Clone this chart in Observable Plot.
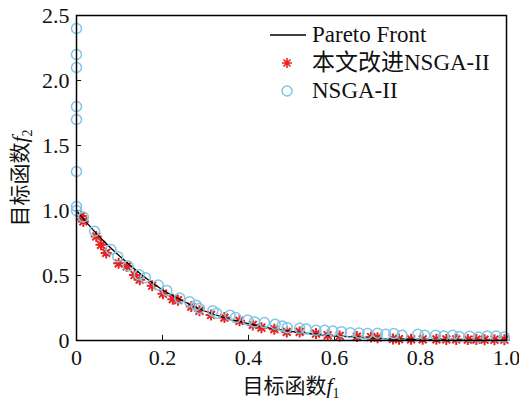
<!DOCTYPE html>
<html><head><meta charset="utf-8">
<script src="https://cdn.jsdelivr.net/npm/d3@7"></script>
<script src="https://cdn.jsdelivr.net/npm/@observablehq/plot@0.6"></script>
<style>
body{margin:0;background:#fff;}
#wrap{width:519px;height:401px;}
</style></head><body><div id="wrap"></div>
<script>
// Pareto front
const frontF1 = [0,0.05,0.1,0.15,0.2,0.25,0.3,0.35,0.4,0.45,0.5,0.55,0.6,0.65,0.7,0.75,0.8,0.85,0.9,0.95,1.0];
const frontF2 = [1.0,0.81,0.65,0.51,0.39,0.30,0.225,0.17,0.13,0.095,0.07,0.05,0.035,0.025,0.017,0.011,0.007,0.004,0.002,0.001,0.0];

// improved NSGA-II (red asterisks)
const impF1 = [0.011,0.016,0.046,0.057,0.069,0.098,0.117,0.135,0.147,0.176,0.201,0.224,0.236,0.267,0.286,0.313,0.344,0.379,0.41,0.43,0.46,0.489,0.519,0.557,0.584,0.612,0.652,0.685,0.70,0.736,0.75,0.778,0.805,0.837,0.86,0.883,0.91,0.93,0.949,0.972,0.995];
const impF2 = [0.957,0.916,0.80,0.736,0.674,0.594,0.57,0.504,0.468,0.421,0.36,0.318,0.31,0.261,0.228,0.197,0.176,0.151,0.12,0.099,0.087,0.066,0.066,0.053,0.04,0.035,0.03,0.027,0.022,0.012,0.01,0.009,0.009,0.009,0.008,0.008,0.007,0.007,0.006,0.006,0.006];

// NSGA-II (blue circles)
const nsF1 = [0,0,0,0,0,0,0,0,0.016,0.042,0.08,0.096,0.12,0.146,0.16,0.19,0.21,0.24,0.263,0.278,0.286,0.317,0.326,0.357,0.37,0.398,0.414,0.437,0.462,0.478,0.49,0.519,0.534,0.557,0.577,0.596,0.616,0.637,0.657,0.677,0.70,0.719,0.738,0.757,0.794,0.81,0.835,0.854,0.875,0.89,0.914,0.935,0.955,0.976,0.995];
const nsF2 = [2.4,2.2,2.1,1.8,1.7,1.3,1.03,1.0,0.95,0.84,0.70,0.645,0.573,0.506,0.483,0.426,0.385,0.326,0.298,0.272,0.246,0.228,0.21,0.195,0.176,0.158,0.143,0.138,0.125,0.112,0.099,0.094,0.089,0.079,0.079,0.073,0.068,0.06,0.058,0.053,0.056,0.048,0.053,0.04,0.048,0.04,0.04,0.035,0.04,0.03,0.032,0.027,0.035,0.035,0.027];

const xTicks = [0,0.2,0.4,0.6,0.8,1.0];
const xTickLabels = ["0","0.2","0.4","0.6","0.8","1.0"];
const yTicks = [0,0.5,1.0,1.5,2.0,2.5];
const yTickLabels = ["0","0.5","1.0","1.5","2.0","2.5"];
const legendLabels = ["Pareto Front","本文改进NSGA-II","NSGA-II"];
const xLabelParts = ["目标函数","f","1"];
const yLabelParts = ["目标函数","f","2"];

const front = frontF1.map((x,i)=>({x, y: frontF2[i]}));
const imp = impF1.map((x,i)=>({x, y: impF2[i]}));
const ns = nsF1.map((x,i)=>({x, y: nsF2[i]}));

const RED = "#e8231f", BLUE = "#7fc6e2";
const star8 = {draw(ctx, size){const r=Math.sqrt(size/Math.PI);const q=r*Math.SQRT1_2;
  ctx.moveTo(-r,0);ctx.lineTo(r,0);ctx.moveTo(0,-r);ctx.lineTo(0,r);
  ctx.moveTo(-q,-q);ctx.lineTo(q,q);ctx.moveTo(-q,q);ctx.lineTo(q,-q);}};

const FONT = '"Liberation Serif","Noto Sans CJK SC",serif';

const svg = Plot.plot({
  width: 519, height: 401,
  marginLeft: 76, marginRight: 13, marginTop: 15, marginBottom: 61,
  style: {fontFamily: FONT, fontSize: "22px", background: "white", color: "#111"},
  x: {domain: [0,1]},
  y: {domain: [0,2.5]},
  marks: [
    Plot.ruleX(xTicks.slice(1,-1), {x: d=>d, y1: 0, y2: 0.04, stroke: "#111", strokeWidth: 1}),
    Plot.ruleY(yTicks.slice(1,-1), {y: d=>d, x1: 0, x2: 0.012, stroke: "#111", strokeWidth: 1}),
    Plot.dot(imp, {x:"x", y:"y", symbol: star8, r: 5.5, stroke: RED, strokeWidth: 2}),
    Plot.line(front, {x:"x", y:"y", stroke: "#000", strokeWidth: 1.3, curve: "monotone-x"}),
    Plot.dot(ns, {x:"x", y:"y", symbol: "circle", r: 5, stroke: BLUE, strokeWidth: 1.5, fill: "none"}),
    Plot.axisX(xTicks, {tickSize: 0, tickPadding: 9, tickFormat: (d,i)=>xTickLabels[i], label: null, fill: "#111"}),
    Plot.axisY(yTicks, {tickSize: 0, tickPadding: 7, tickFormat: (d,i)=>yTickLabels[i], label: null, fill: "#111"}),
    Plot.frame({stroke: "#000", strokeWidth: 1.5})
  ]
});

const s = d3.select(svg);
// x axis label
const xl = s.append("text").attr("x", 291).attr("y", 393).attr("text-anchor","middle")
  .attr("font-family", FONT).attr("font-size", 21).attr("fill","#111");
xl.append("tspan").text(xLabelParts[0]);
xl.append("tspan").attr("font-style","italic").attr("font-size",22).text(xLabelParts[1]);
xl.append("tspan").attr("font-size",14).attr("dy",5).text(xLabelParts[2]);
// y axis label
const yl = s.append("text").attr("transform","translate(27,178) rotate(-90)").attr("text-anchor","middle")
  .attr("font-family", FONT).attr("font-size", 21).attr("fill","#111");
yl.append("tspan").text(yLabelParts[0]);
yl.append("tspan").attr("font-style","italic").attr("font-size",22).text(yLabelParts[1]);
yl.append("tspan").attr("font-size",14).attr("dy",5).text(yLabelParts[2]);

// legend
const lg = s.append("g").attr("font-family", FONT).attr("font-size", 23).attr("fill","#111").attr("text-anchor","start");
const rowY = [35, 63, 91];
lg.append("line").attr("x1",270).attr("x2",306).attr("y1",rowY[0]).attr("y2",rowY[0]).attr("stroke","#000").attr("stroke-width",1.3);
const p = d3.path(); star8.draw(p, Math.PI*25);
lg.append("path").attr("d", p.toString()).attr("transform",`translate(287,${rowY[1]})`).attr("stroke",RED).attr("stroke-width",1.6).attr("fill","none");
lg.append("circle").attr("cx",287).attr("cy",rowY[2]).attr("r",5).attr("stroke",BLUE).attr("stroke-width",1.5).attr("fill","none");
legendLabels.forEach((t,i)=>{
  lg.append("text").attr("x",312).attr("y",rowY[i]+7).attr("text-anchor","start").text(t);
});

document.getElementById("wrap").appendChild(svg);
</script>
</body></html>
